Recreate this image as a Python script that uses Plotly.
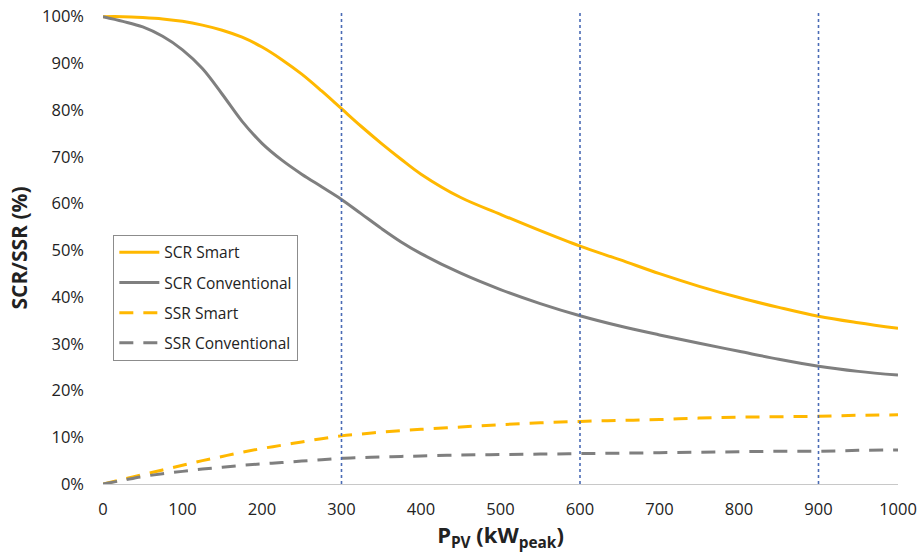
import plotly.graph_objects as go

x_pv = [0, 25, 50, 75, 100, 125, 150, 175, 200, 225, 250, 275, 300, 325, 350, 375, 400,
        450, 500, 550, 600, 650, 700, 750, 800, 850, 900, 950, 1000]
scr_smart = [100, 100, 99.8, 99.5, 99.0, 98.2, 97.1, 95.6, 93.5, 90.8, 87.7, 84.1, 80.3, 76.5, 72.9, 69.5, 66.3,
             61.3, 57.7, 54.2, 50.9, 48.0, 45.0, 42.3, 39.9, 37.8, 35.9, 34.5, 33.3]
scr_conv = [100, 99.0, 97.8, 95.8, 92.9, 88.9, 83.4, 77.6, 72.9, 69.3, 66.3, 63.6, 60.9, 57.8, 54.7, 51.8, 49.3,
            45.1, 41.6, 38.6, 36.0, 33.8, 31.9, 30.1, 28.4, 26.7, 25.2, 24.1, 23.3]
ssr_smart = [0, 1.0, 2.0, 3.0, 4.0, 5.0, 5.9, 6.8, 7.6, 8.3, 9.0, 9.7, 10.3, 10.7, 11.1, 11.4, 11.7,
             12.2, 12.7, 13.1, 13.4, 13.6, 13.8, 14.1, 14.3, 14.4, 14.5, 14.7, 14.8]
ssr_conv = [0, 0.8, 1.6, 2.2, 2.7, 3.2, 3.6, 4.0, 4.3, 4.6, 4.9, 5.2, 5.5, 5.65, 5.8, 5.9, 6.0,
            6.2, 6.3, 6.4, 6.5, 6.6, 6.7, 6.8, 6.9, 7.0, 7.0, 7.2, 7.3]
vlines = [300, 600, 900]
y_ticks = [0, 10, 20, 30, 40, 50, 60, 70, 80, 90, 100]
x_ticks = [0, 100, 200, 300, 400, 500, 600, 700, 800, 900, 1000]

ORANGE = "#FFB800"
GRAY = "#7F7F7F"

fig = go.Figure()
series = [
    ("SCR Smart", scr_smart, ORANGE, "solid"),
    ("SCR Conventional", scr_conv, GRAY, "solid"),
    ("SSR Smart", ssr_smart, ORANGE, "14px,10px"),
    ("SSR Conventional", ssr_conv, GRAY, "14px,10px"),
]
for i, (name, ys, col, dash) in enumerate(series):
    fig.add_trace(go.Scatter(
        x=x_pv, y=[v / 100 for v in ys], mode="lines", name=name,
        line=dict(color=col, width=3, dash=dash, shape="spline", smoothing=1.0),
        legendgroup=f"g{i}",
    ))

for v in vlines:
    fig.add_shape(type="line", x0=v, x1=v, y0=0, y1=1.01, xref="x", yref="y",
                  line=dict(color="#4A6BB5", width=1.6, dash="dot"), layer="above")

fig.update_layout(
    width=921, height=553,
    margin=dict(l=103, r=23, t=12, b=69),
    plot_bgcolor="white", paper_bgcolor="white",
    font=dict(family="Open Sans, Liberation Sans, sans-serif", color="#222222", size=16.5),
    showlegend=True,
    legend=dict(
        x=0.013, y=0.528, xanchor="left", yanchor="top",
        bordercolor="#8C8C8C", borderwidth=1, bgcolor="white",
        font=dict(size=15.5, color="#222222"),
        tracegroupgap=7, itemwidth=40,
    ),
    xaxis=dict(
        range=[0, 1000], tickvals=x_ticks, ticktext=[str(t) for t in x_ticks],
        showgrid=False, zeroline=False, showline=False, automargin=False,
        ticks="", ticklabelstandoff=13,
        title=dict(text="<b>P<sub>PV</sub> (kW<sub>peak</sub>)</b>", font=dict(size=22), standoff=2),
    ),
    yaxis=dict(
        range=[0, 1.01], tickvals=[t / 100 for t in y_ticks],
        ticktext=[f"{t}%" for t in y_ticks],
        showgrid=False, zeroline=True, zerolinecolor="#C8C8C8", zerolinewidth=1.2,
        showline=False, ticks="", ticklabelstandoff=18, automargin=False,
        title=dict(text="<b>SCR/SSR (%)</b>", font=dict(size=21), standoff=8),
    ),
)

fig.write_html("out.html")
